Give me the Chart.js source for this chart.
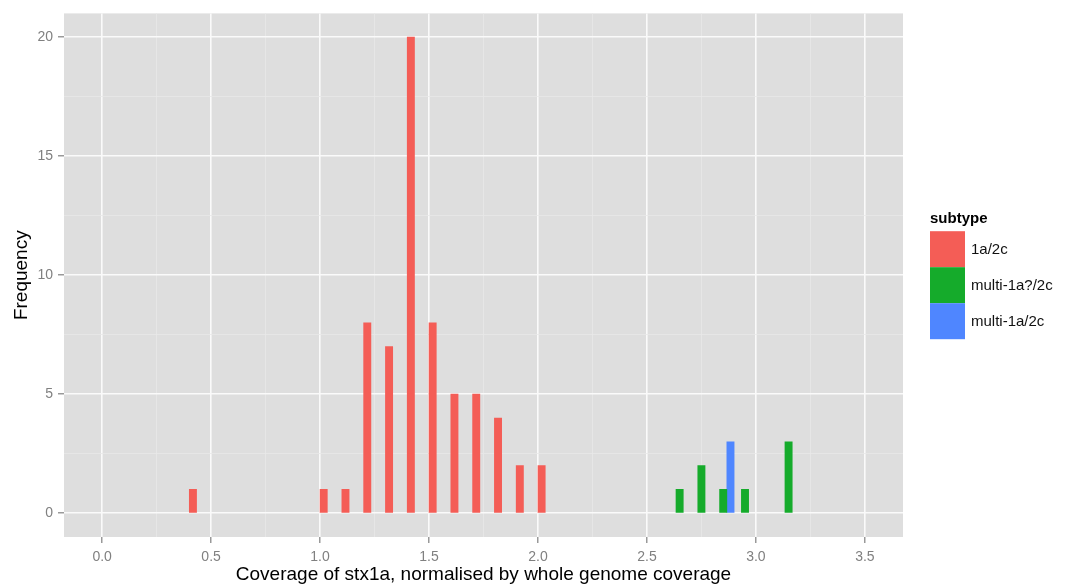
<!DOCTYPE html>
<html>
<head>
<meta charset="utf-8">
<script src="https://cdn.jsdelivr.net/npm/chart.js@4/dist/chart.umd.min.js"></script>
<style>
  body { margin: 0; background: #ffffff; }
  #wrap { width: 1067px; height: 586px; }
</style>
</head>
<body>
<div id="wrap"><canvas id="chart"></canvas></div>
<script>
// histogram bins (left edge), width 0.1, dodged by subtype
var binWidth = 0.1;
var subtypes = ['1a/2c', 'multi-1a?/2c', 'multi-1a/2c'];
var colours = ['#F45D56', '#15AB2B', '#4F86FF'];

var redBins = [0.4, 1.0, 1.1, 1.2, 1.3, 1.4, 1.5, 1.6, 1.7, 1.8, 1.9, 2.0];
var redCounts = [1, 1, 1, 8, 7, 20, 8, 5, 5, 4, 2, 2];
var greenBins = [2.6, 2.7, 2.8, 2.9, 3.1];
var greenCounts = [1, 2, 1, 1, 3];
var blueBins = [2.8];
var blueCounts = [3];

var xMajor = [0, 0.5, 1.0, 1.5, 2.0, 2.5, 3.0, 3.5];
var xTickLabels = ['0.0', '0.5', '1.0', '1.5', '2.0', '2.5', '3.0', '3.5'];
var yMajor = [0, 5, 10, 15, 20];
var yTickLabels = ['0', '5', '10', '15', '20'];

var tickGrey = '#808080';
var font = '"Liberation Sans", Arial, Helvetica, sans-serif';


function withMinors(majors) {
    var out = [];
    for (var i = 0; i < majors.length; i++) {
        out.push({value: majors[i]});
        if (i < majors.length - 1) {
            out.push({value: (majors[i] + majors[i + 1]) / 2});
        }
    }
    return out;
}

function majorIndex(list, v) {
    for (var i = 0; i < list.length; i++) {
        if (Math.abs(list[i] - v) < 1e-9) return i;
    }
    return -1;
}

function onMajor(list, c) {
    return c.tick ? majorIndex(list, c.tick.value) >= 0 : false;
}

// place each bar in its third of the bin, like position="dodge"
function dodge(bins, counts, k) {
    var pts = [];
    for (var i = 0; i < bins.length; i++) {
        pts.push({x: bins[i] + binWidth * (k + 0.5) / 3, y: counts[i]});
    }
    return pts;
}

var panelBg = {
    id: 'panelBg',
    beforeDraw: function(chart) {
        var a = chart.chartArea, ctx = chart.ctx;
        ctx.save();
        ctx.fillStyle = '#DEDEDE';
        ctx.fillRect(a.left, a.top, a.right - a.left, a.bottom - a.top);
        ctx.restore();
    }
};

// ggplot style legend: title and stacked square keys
var ggLegend = {
    id: 'ggLegend',
    afterDraw: function(chart) {
        var a = chart.chartArea, ctx = chart.ctx;
        var sets = chart.data.datasets;
        var keyW = 35, keyH = 36, titleH = 20;
        var x = a.right + 27;
        var top = (a.top + a.bottom) / 2 - (titleH + sets.length * keyH) / 2;
        ctx.save();
        ctx.fillStyle = '#000000';
        ctx.font = 'bold 15px ' + font;
        ctx.textBaseline = 'alphabetic';
        ctx.textAlign = 'left';
        ctx.fillText('subtype', x, top + 12);
        ctx.font = '15px ' + font;
        ctx.textBaseline = 'middle';
        for (var i = 0; i < sets.length; i++) {
            var y = top + titleH + i * keyH;
            ctx.fillStyle = sets[i].backgroundColor;
            ctx.fillRect(x, y, keyW, keyH);
            ctx.fillStyle = '#111111';
            ctx.fillText(sets[i].label, x + keyW + 6, y + keyH / 2 + 1);
        }
        ctx.restore();
    }
};

function gridOpts(list) {
    return {
        offset: false,
        color: function(c) { return onMajor(list, c) ? '#FAFAFA' : '#E8E8E8'; },
        lineWidth: function(c) { return onMajor(list, c) ? 1.6 : 0.8; },
        tickColor: function(c) { return onMajor(list, c) ? tickGrey : 'rgba(0,0,0,0)'; },
        tickWidth: 1.2,
        tickLength: 6
    };
}

new Chart(document.getElementById('chart').getContext('2d'), {
    type: 'bar',
    data: {
        datasets: [
            {label: subtypes[0], data: dodge(redBins, redCounts, 0), backgroundColor: colours[0]},
            {label: subtypes[1], data: dodge(greenBins, greenCounts, 1), backgroundColor: colours[1]},
            {label: subtypes[2], data: dodge(blueBins, blueCounts, 2), backgroundColor: colours[2]}
        ]
    },
    options: {
        responsive: true,
        maintainAspectRatio: false,
        animation: false,
        layout: {padding: {top: 12, right: 164, left: 0, bottom: 0}},
        datasets: {
            bar: {grouped: false, barPercentage: 1, categoryPercentage: 1, borderWidth: 0}
        },
        plugins: {
            legend: {display: false},
            tooltip: {enabled: false}
        },
        scales: {
            x: {
                type: 'linear',
                offset: false,
                min: -0.175,
                max: 3.675,
                afterBuildTicks: function(scale) { scale.ticks = withMinors(xMajor); },
                afterFit: function(scale) { scale.height = 49; },
                border: {display: false},
                grid: gridOpts(xMajor),
                ticks: {
                    autoSkip: false,
                    maxRotation: 0,
                    padding: 6,
                    color: tickGrey,
                    font: {family: font, size: 14},
                    callback: function(v) {
                        var i = majorIndex(xMajor, v);
                        return i >= 0 ? xTickLabels[i] : '';
                    }
                },
                title: {
                    display: true,
                    text: 'Coverage of stx1a, normalised by whole genome coverage',
                    color: '#000000',
                    font: {family: font, size: 19, lineHeight: 1},
                    padding: {top: 0, bottom: 1.5}
                }
            },
            y: {
                min: -1,
                max: 21,
                afterBuildTicks: function(scale) { scale.ticks = withMinors(yMajor); },
                afterFit: function(scale) { scale.width = 64; },
                border: {display: false},
                grid: gridOpts(yMajor),
                ticks: {
                    autoSkip: false,
                    padding: 5,
                    color: tickGrey,
                    font: {family: font, size: 14},
                    callback: function(v) {
                        var i = majorIndex(yMajor, v);
                        return i >= 0 ? yTickLabels[i] : '';
                    }
                },
                title: {
                    display: true,
                    text: 'Frequency',
                    color: '#000000',
                    font: {family: font, size: 19, lineHeight: 1},
                    padding: {top: 12, bottom: 0}
                }
            }
        }
    },
    plugins: [panelBg, ggLegend]
});
</script>
</body>
</html>
